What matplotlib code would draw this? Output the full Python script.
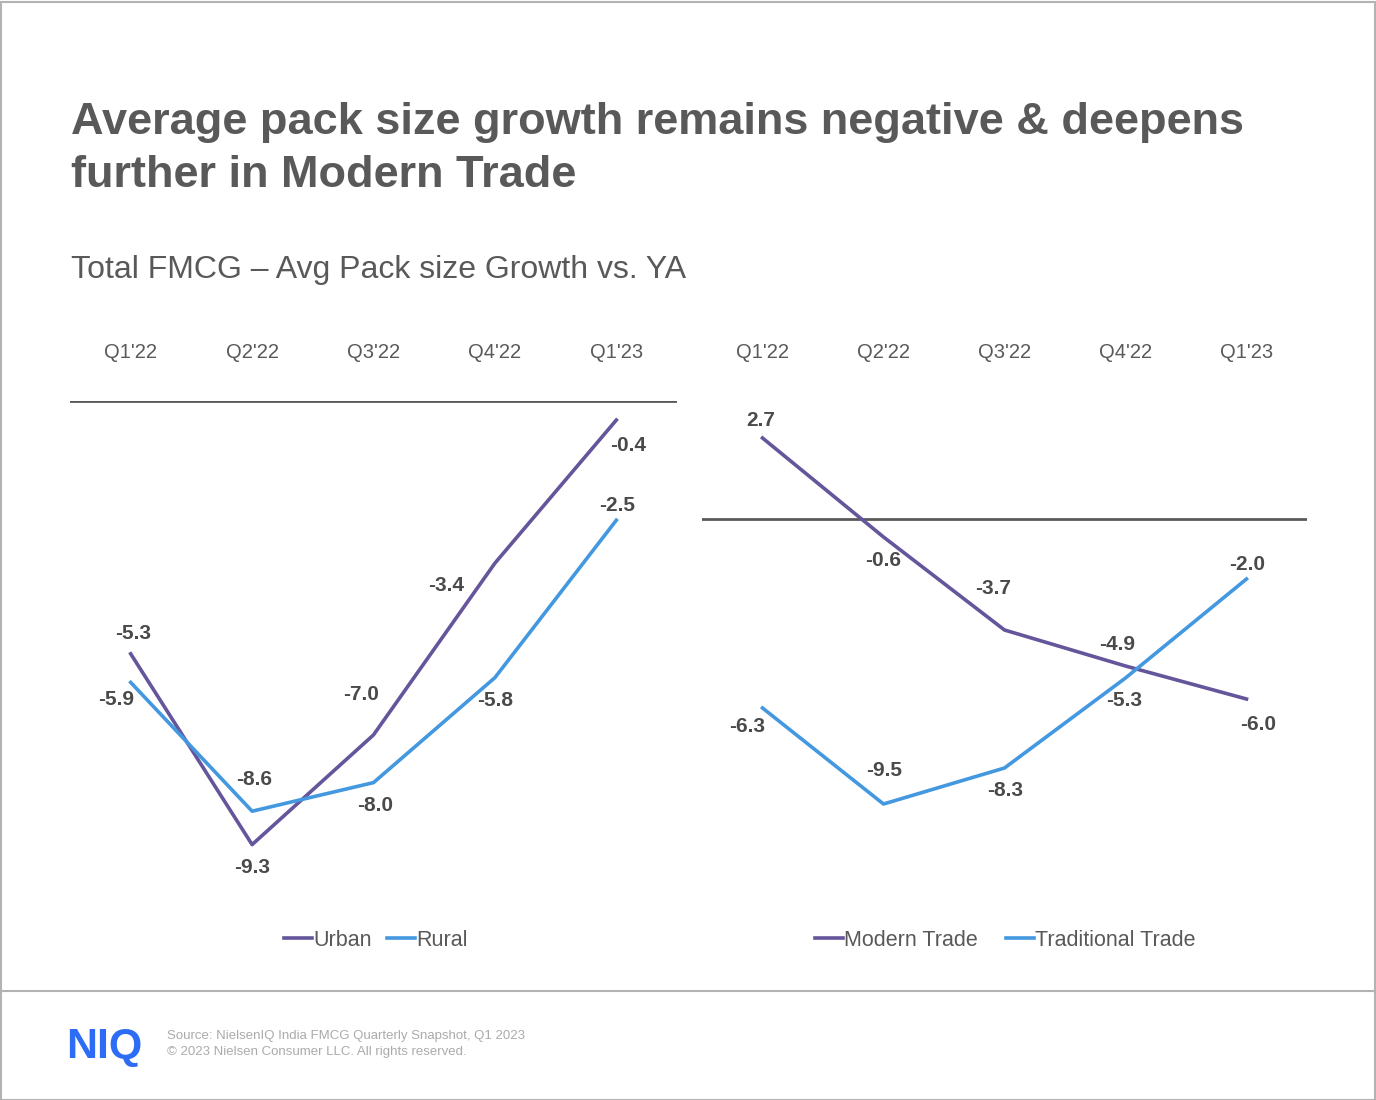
import matplotlib
matplotlib.use("Agg")
import matplotlib.pyplot as plt
from matplotlib.lines import Line2D
from matplotlib.patches import Rectangle

plt.rcParams['font.family'] = ['Liberation Sans', 'DejaVu Sans']

quarters = ["Q1'22", "Q2'22", "Q3'22", "Q4'22", "Q1'23"]
urban = [-5.3, -9.3, -7.0, -3.4, -0.4]
rural = [-5.9, -8.6, -8.0, -5.8, -2.5]
modern_trade = [2.7, -0.6, -3.7, -4.9, -6.0]
traditional_trade = [-6.3, -9.5, -8.3, -5.3, -2.0]

title = "Average pack size growth remains negative & deepens\nfurther in Modern Trade"
subtitle = "Total FMCG \u2013 Avg Pack size Growth vs. YA"
source = "Source: NielsenIQ India FMCG Quarterly Snapshot, Q1 2023\n\u00a9 2023 Nielsen Consumer LLC. All rights reserved."

PURPLE = "#65559B"
BLUE = "#4398E0"
DARK = "#595959"
LABEL = "#4A4A4A"

W, H = 1376, 1100
fig = plt.figure(figsize=(W / 100, H / 100), dpi=100)


def px_axes(x0, y0, x1, y1):
    return fig.add_axes([x0 / W, 1 - y1 / H, (x1 - x0) / W, (y1 - y0) / H])


def style(ax, pad):
    for s in ax.spines.values():
        s.set_visible(False)
    ax.set_xlim(-0.5, 4.5)
    ax.set_xticks(range(len(quarters)))
    ax.set_xticklabels(quarters, fontsize=14.5, color=DARK)
    ax.xaxis.tick_top()
    ax.tick_params(axis='x', length=0, pad=pad)
    ax.set_yticks([])
    ax.axhline(0, color=DARK, lw=2.0, zorder=1)
    ax.patch.set_alpha(0)


def label(ax, xs, ys, offsets):
    for x, y, (dx, dy) in zip(xs, ys, offsets):
        ax.annotate(f"{y:.1f}", (x, y), xytext=(dx, dy), textcoords='offset pixels',
                    ha='center', va='center', fontsize=15, fontweight='bold', color=LABEL)


x = list(range(len(quarters)))
leg_kw = dict(loc='center', bbox_transform=fig.transFigure, ncol=2, frameon=False,
              fontsize=15.5, labelcolor=DARK, handlelength=1.3, handletextpad=0.05)

# Left chart
ax1 = px_axes(70, 401, 677, 878)
ax1.set_ylim(-10, 0)
style(ax1, 28)
ax1.plot(x, urban, color=PURPLE, lw=2.6, label="Urban", zorder=3)
ax1.plot(x, rural, color=BLUE, lw=2.6, label="Rural", zorder=3)
label(ax1, x, urban, [(2, 20), (0, -23), (-12, 40), (-49, -22), (12, -25)])
label(ax1, x, rural, [(-15, -17), (2, 32), (2, -23), (0, -23), (1, 15)])
ax1.legend(bbox_to_anchor=(376 / W, 1 - 940 / H), columnspacing=0.7, **leg_kw)

# Right chart
ax2 = px_axes(702, 399, 1307, 819)
ax2.set_ylim(-10, 4)
style(ax2, 26.5)
ax2.plot(x, modern_trade, color=PURPLE, lw=2.6, label="Modern Trade", zorder=3)
ax2.plot(x, traditional_trade, color=BLUE, lw=2.6, label="Traditional Trade", zorder=3)
label(ax2, x, modern_trade, [(-2, 18), (0, -24), (-11, 41), (-8, 21), (12, -25)])
label(ax2, x, traditional_trade, [(-15, -18), (1, 33), (1, -23), (-1, -23), (1, 14)])
ax2.legend(bbox_to_anchor=(1005 / W, 1 - 940 / H), columnspacing=1.3, **leg_kw)

# Titles
fig.text(71 / W, 1 - 149 / H, title, ha='left', va='center', fontsize=32.5, fontweight='bold',
         color=DARK, linespacing=1.38)
fig.text(71 / W, 1 - 270 / H, subtitle, ha='left', va='center', fontsize=23, color=DARK)

# Footer
fig.text(66 / W, 1 - 1047 / H, "NIQ", ha='left', va='center', fontsize=31, fontweight='bold',
         color="#2D6DF6")
fig.text(167 / W, 1 - 1044 / H, source, ha='left', va='center', fontsize=9.5, color="#ABABAB",
         linespacing=1.35)

# Frame and footer rule
fig.add_artist(Rectangle((0.5 / W, 0.5 / H), 1 - 2 / W, 1 - 2 / H, transform=fig.transFigure,
                         fill=False, edgecolor="#B3B3B3", lw=1.5))
fig.add_artist(Line2D([0, 1], [1 - 991 / H, 1 - 991 / H], transform=fig.transFigure,
                      color="#B3B3B3", lw=1.5))

fig.savefig("out.png", dpi=100)
